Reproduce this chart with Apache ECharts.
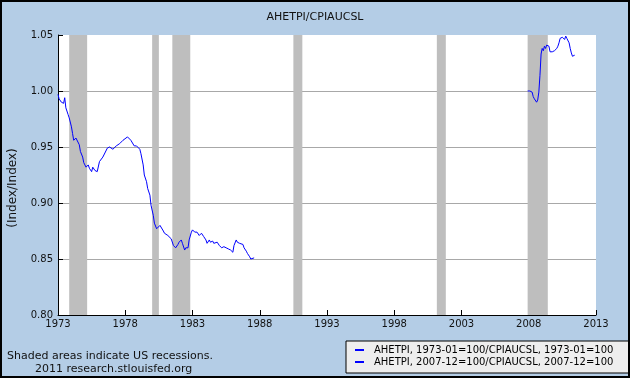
<!DOCTYPE html>
<html>
<head>
<meta charset="utf-8">
<script src="https://cdn.jsdelivr.net/npm/echarts@6/dist/echarts.min.js"></script>
<style>
html, body { margin: 0; padding: 0; }
#chart { width: 630px; height: 378px; }
</style>
</head>
<body>
<div id="chart"></div>
<script>
// AHETPI, 1973-01=100 / CPIAUCSL, 1973-01=100
const dates1 = [
  '1973-01','1973-02','1973-04','1973-06','1973-07','1973-08','1973-10','1973-11',
  '1974-01','1974-02','1974-03','1974-05','1974-06','1974-08','1974-09','1974-11','1974-12',
  '1975-01','1975-02','1975-04','1975-05','1975-07','1975-08','1975-10','1975-12',
  '1976-02','1976-05','1976-09','1976-11','1977-02','1977-05','1977-08','1977-11',
  '1978-03','1978-06','1978-09','1978-11','1979-02','1979-03','1979-05','1979-06',
  '1979-08','1979-09','1979-11','1979-12','1980-02','1980-03','1980-05','1980-06',
  '1980-08','1980-09','1980-11','1980-12','1981-03','1981-06','1981-08','1981-10',
  '1981-12','1982-01','1982-03','1982-04','1982-06','1982-07','1982-09','1982-10',
  '1982-12','1983-01','1983-03','1983-05','1983-07','1983-09','1983-11','1984-01',
  '1984-02','1984-04','1984-05','1984-07','1984-08','1984-11','1985-01','1985-03',
  '1985-05','1985-07','1985-09','1985-11','1986-01','1986-02','1986-04','1986-05',
  '1986-07','1986-08','1986-10','1986-11','1987-01','1987-02','1987-04','1987-05',
  '1987-06','1987-08'
];
const values1 = [
  0.997,0.993,0.990,0.989,0.994,0.985,0.979,0.976,
  0.968,0.962,0.956,0.958,0.957,0.952,0.946,0.941,0.936,
  0.934,0.932,0.934,0.931,0.928,0.932,0.929,0.928,
  0.937,0.941,0.949,0.950,0.948,0.951,0.953,0.956,
  0.959,0.956,0.951,0.951,0.948,0.944,0.934,0.925,
  0.919,0.913,0.907,0.898,0.889,0.882,0.877,0.877,
  0.880,0.879,0.875,0.873,0.871,0.868,0.862,0.860,
  0.863,0.865,0.867,0.864,0.858,0.860,0.860,0.867,
  0.874,0.876,0.874,0.874,0.871,0.873,0.870,0.867,
  0.864,0.867,0.865,0.866,0.864,0.865,0.862,0.860,
  0.861,0.860,0.859,0.858,0.856,0.862,0.867,0.865,
  0.864,0.8625,0.863,0.860,0.857,0.855,0.852,0.850,
  0.851,0.851
];

// AHETPI, 2007-12=100 / CPIAUCSL, 2007-12=100
const dates2 = [
  '2007-12','2008-01','2008-02','2008-03','2008-04','2008-05','2008-06','2008-07',
  '2008-08','2008-09','2008-10','2008-11','2008-12','2009-01','2009-02','2009-03',
  '2009-04','2009-05','2009-06','2009-07','2009-08','2009-09','2009-10','2009-11',
  '2009-12','2010-01','2010-02','2010-03','2010-04','2010-05','2010-06','2010-07',
  '2010-08','2010-09','2010-10','2010-11','2010-12','2011-01','2011-02','2011-03',
  '2011-04','2011-05','2011-06'
];
const values2 = [
  1.000,1.001,1.000,1.0015,0.999,0.995,0.993,0.992,
  0.990,0.992,0.999,1.014,1.033,1.038,1.036,1.040,
  1.038,1.041,1.040,1.040,1.035,1.035,1.035,1.035,
  1.036,1.037,1.038,1.040,1.043,1.047,1.0485,1.048,
  1.0485,1.046,1.049,1.047,1.0455,1.043,1.038,1.034,
  1.031,1.032,1.032
];

// US recessions (peak month -> trough month)
const recessionStarts = ['1973-11','1980-01','1981-07','1990-07','2001-03','2007-12'];
const recessionEnds   = ['1975-03','1980-07','1982-11','1991-03','2001-11','2009-06'];

const seriesNames = [
  'AHETPI, 1973-01=100/CPIAUCSL, 1973-01=100',
  'AHETPI, 2007-12=100/CPIAUCSL, 2007-12=100'
];

const yearMin = 1973, yearMax = 2013, yearStep = 5;

function toYear(d) {
  const parts = d.split('-').map(Number);
  return parts[0] + (parts[1] - 1) / 12;
}

const font = 'DejaVu Sans';
const chart = echarts.init(document.getElementById('chart'));

chart.setOption({
  animation: false,
  backgroundColor: '#B4CDE6',
  textStyle: { fontFamily: font },
  title: {
    text: 'AHETPI/CPIAUCSL',
    left: 'center',
    top: 7,
    textStyle: { fontSize: 11, fontWeight: 'normal', color: '#111', fontFamily: font }
  },
  grid: {
    left: 58, right: 34, top: 35, bottom: 63,
    outerBoundsMode: 'none',
    containLabel: false,
    show: true, backgroundColor: '#fff', borderWidth: 0
  },
  legend: {
    data: seriesNames,
    orient: 'vertical',
    left: 346,
    top: 341,
    padding: [4, 16, 6, 9],
    itemGap: 2,
    itemWidth: 9,
    itemHeight: 2,
    icon: 'rect',
    backgroundColor: '#EEEEEE',
    borderColor: '#000',
    borderWidth: 1,
    borderRadius: 0,
    selectedMode: false,
    textStyle: { fontSize: 10, color: '#000', fontFamily: font, padding: [0, 0, 0, 5] }
  },
  xAxis: {
    type: 'value',
    min: yearMin,
    max: yearMax,
    interval: yearStep,
    axisLine: { lineStyle: { color: '#000', width: 1 } },
    axisTick: { inside: true, length: 5, lineStyle: { color: '#000' } },
    axisLabel: { fontSize: 10, color: '#111', margin: 4, formatter: v => String(Math.round(v)) },
    splitLine: { show: false }
  },
  yAxis: {
    type: 'value',
    min: 0.80,
    max: 1.05,
    interval: 0.05,
    axisLine: { show: true, lineStyle: { color: '#000', width: 1 } },
    axisTick: { show: true, inside: true, length: 5, lineStyle: { color: '#000' } },
    axisLabel: { fontSize: 10, color: '#111', margin: 5, formatter: v => v.toFixed(2) },
    splitLine: {
      show: true,
      lineStyle: { color: ['transparent', '#A8A8A8', '#A8A8A8', '#A8A8A8', '#A8A8A8', 'transparent'], width: 1 }
    }
  },
  series: [
    {
      name: 'recessions',
      type: 'line',
      data: [],
      silent: true,
      z: 1,
      markArea: {
        silent: true,
        itemStyle: { color: '#BEBEBE' },
        data: recessionStarts.map((s, i) => [{ xAxis: toYear(s) }, { xAxis: toYear(recessionEnds[i]) }])
      }
    },
    {
      name: seriesNames[0],
      type: 'line',
      z: 3,
      showSymbol: false,
      color: '#0000FF',
      lineStyle: { width: 1, color: '#0000FF' },
      data: dates1.map((d, i) => [toYear(d), values1[i]])
    },
    {
      name: seriesNames[1],
      type: 'line',
      z: 3,
      showSymbol: false,
      color: '#0000FF',
      lineStyle: { width: 1, color: '#0000FF' },
      data: dates2.map((d, i) => [toYear(d), values2[i]])
    }
  ],
  graphic: [
    {
      type: 'text', x: 13, y: 188, rotation: Math.PI / 2,
      style: { text: '(Index/Index)', font: '12px "DejaVu Sans"', fill: '#111', align: 'center', verticalAlign: 'middle' }
    },
    {
      type: 'text', left: 7, top: 351,
      style: { text: 'Shaded areas indicate US recessions.', font: '11px "DejaVu Sans"', fill: '#111' }
    },
    {
      type: 'text', left: 35, top: 364,
      style: { text: '2011 research.stlouisfed.org', font: '11px "DejaVu Sans"', fill: '#111' }
    },
    {
      type: 'rect', z: 100, silent: true,
      shape: { x: 1, y: 1, width: 628, height: 376 },
      style: { fill: 'none', stroke: '#000', lineWidth: 2 }
    }
  ]
});
</script>
</body>
</html>
